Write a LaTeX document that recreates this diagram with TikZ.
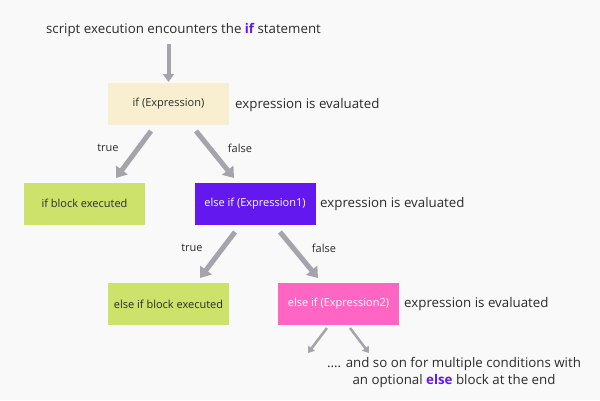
\documentclass[tikz,border=0pt]{standalone}
\usepackage{fontspec}
\setmainfont{Open Sans}
\usetikzlibrary{arrows.meta}
\definecolor{bg}{HTML}{F9F9F9}
\definecolor{cream}{HTML}{F8EFD1}
\definecolor{lime}{HTML}{CDE26A}
\definecolor{purp}{HTML}{6218EE}
\definecolor{pink}{HTML}{FF66C4}
\definecolor{arr}{HTML}{A4A4AA}
\definecolor{txt}{HTML}{2B2B2B}
\tikzset{
  box/.style={minimum width=121pt, minimum height=42pt, inner sep=0pt, font=\fontsize{11}{13}\selectfont, text=txt},
  lbl/.style={font=\fontsize{13.3}{16}\selectfont, text=txt, inner sep=0pt},
  small/.style={font=\fontsize{11}{13}\selectfont, text=txt, inner sep=0pt},
  bigarrow/.style={draw=arr, line width=5pt, -{Triangle[width=14pt,length=10pt]}},
  midarrow/.style={draw=arr, line width=4pt, -{Triangle[width=11pt,length=8pt]}},
  tinyarrow/.style={draw=arr, line width=2.5pt, -{Triangle[width=8pt,length=6pt]}},
}
\begin{document}
\begin{tikzpicture}[x=1pt,y=-1pt]
\fill[bg] (0,0) rectangle (600,400);
\useasboundingbox (0,0) rectangle (600,400);
\node[lbl] (title) at (183.5,30) {script execution encounters the \textbf{\textcolor{purp}{if}} statement};
\node[box, fill=cream] (b1) at (168.5,104) {if (Expression)};
\node[lbl, anchor=west] (e1) at (235,105) {expression is evaluated};
\node[box, fill=lime] (b2) at (84.5,203.5) {if block executed};
\node[box, fill=purp, text=white] (b3) at (255,203.5) {else if (Expression1)};
\node[lbl, anchor=west] (e2) at (320,204) {expression is evaluated};
\node[box, fill=lime] (b4) at (168.5,304) {else if block executed};
\node[box, fill=pink, text=white] (b5) at (338.5,304) {else if (Expression2)};
\node[lbl, anchor=west] (e3) at (404,304) {expression is evaluated};
\node[lbl, align=center] (end) at (454,373) {.... and so on for multiple conditions with\\[1pt]an optional \textbf{\textcolor{purp}{else}} block at the end};
\node[small] (t1) at (108,148) {true};
\node[small] (f1) at (240,148) {false};
\node[small] (t2) at (192,248) {true};
\node[small] (f2) at (324,248) {false};
\coordinate (a0) at (168.5,44);
\coordinate (a1) at (168.5,82);
\coordinate (s1) at (151,131);
\coordinate (d1) at (116,178);
\coordinate (s2) at (196,131);
\coordinate (d2) at (234,178);
\coordinate (s3) at (235,232);
\coordinate (d3) at (200,278);
\coordinate (s4) at (280,232);
\coordinate (d4) at (318,278);
\coordinate (s5) at (327,328);
\coordinate (d5) at (308,353);
\coordinate (s6) at (350,328);
\coordinate (d6) at (369,353);
\draw[midarrow] (a0) -- (a1);
\draw[bigarrow] (s1) -- (d1);
\draw[bigarrow] (s2) -- (d2);
\draw[bigarrow] (s3) -- (d3);
\draw[bigarrow] (s4) -- (d4);
\draw[tinyarrow] (s5) -- (d5);
\draw[tinyarrow] (s6) -- (d6);
\end{tikzpicture}
\end{document}
